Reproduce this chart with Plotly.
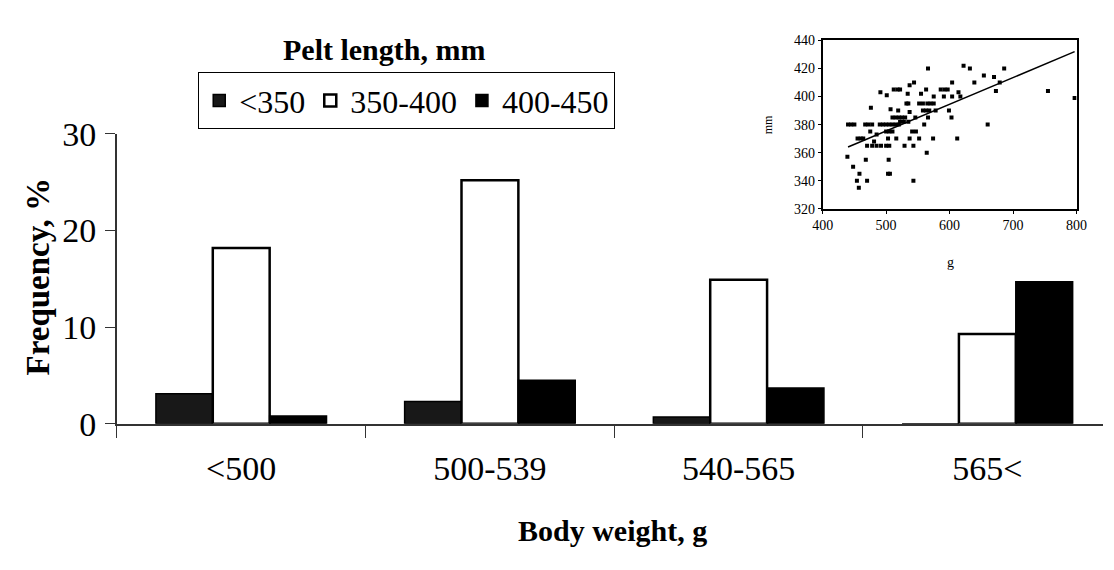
import plotly.graph_objects as go

W, H = 1114, 570

# ---- main chart data ----
categories = ["<500", "500-539", "540-565", "565<"]
series_names = ["<350", "350-400", "400-450"]
freq_lt350 = [3.1, 2.3, 0.7, 0]
freq_350_400 = [18.2, 25.2, 14.9, 9.3]
freq_400_450 = [0.8, 4.5, 3.7, 14.7]
y_ticks = [0, 10, 20, 30]

# ---- inset scatter data (body weight g, pelt length mm) ----
inset_g = [439, 448, 458, 454, 457, 470, 468, 440, 445, 450, 455, 460, 464, 476,
           467, 472, 478, 475, 470, 478, 485, 492, 500, 505, 481, 485, 490, 491,
           501, 503, 504, 503, 506, 507, 495, 500, 505, 510, 515, 520, 500, 505,
           510, 512, 518, 522, 519, 516, 510, 515, 520, 525, 530, 522, 528, 535,
           529, 532, 535, 534, 537, 544, 537, 537, 541, 547, 543, 543, 546, 552,
           555, 552, 558, 565, 570, 575, 563, 566, 564, 560, 558, 563, 568, 566,
           574, 575, 578, 586, 592, 597, 591, 599, 603, 604, 604, 612, 614, 617,
           622, 632, 639, 654, 660, 670, 673, 679, 686, 755, 797]
inset_mm = [357, 350, 345, 340, 335, 340, 355, 380, 380, 380, 370, 370, 370, 392,
            380, 380, 380, 375, 365, 365, 365, 365, 365, 365, 368, 373, 380, 403,
            401, 370, 355, 345, 345, 391, 380, 380, 380, 380, 380, 380, 375, 375,
            375, 405, 405, 405, 390, 370, 385, 385, 385, 385, 385, 382, 382, 382,
            365, 395, 395, 402, 408, 410, 389, 370, 375, 375, 365, 340, 385, 370,
            402, 395, 395, 395, 395, 395, 405, 420, 360, 380, 390, 390, 390, 385,
            370, 400, 390, 405, 405, 405, 400, 390, 385, 410, 400, 370, 403, 400,
            422, 420, 410, 415, 380, 414, 404, 410, 420, 404, 399]
trend_g = [440, 797]
trend_mm = [364, 432]

SERIF = "Liberation Serif"

fig = go.Figure()
fig.add_trace(go.Bar(x=categories, y=freq_lt350, name=series_names[0],
                     marker=dict(color="#181818", line=dict(color="black", width=1.5))))
fig.add_trace(go.Bar(x=categories, y=freq_350_400, name=series_names[1],
                     marker=dict(color="white", line=dict(color="black", width=2.5))))
fig.add_trace(go.Bar(x=categories, y=freq_400_450, name=series_names[2],
                     marker=dict(color="black", line=dict(color="black", width=1.5))))

fig.add_trace(go.Scatter(x=inset_g, y=inset_mm, mode="markers", xaxis="x2", yaxis="y2",
                         marker=dict(symbol="square", size=4, color="black"),
                         showlegend=False, hoverinfo="x+y"))
fig.add_trace(go.Scatter(x=trend_g, y=trend_mm, mode="lines", xaxis="x2", yaxis="y2",
                         line=dict(color="black", width=1.5), showlegend=False))

px = lambda v: v / W
py = lambda v: 1 - v / H

fig.update_layout(
    width=W, height=H,
    margin=dict(l=0, r=0, t=0, b=0),
    paper_bgcolor="white", plot_bgcolor="white",
    font=dict(family=SERIF, color="black"),
    barmode="group", bargap=0.314, bargroupgap=0,
    xaxis=dict(domain=[px(108), 1.0], range=[-0.5, 3.465], type="category",
               showline=True, linecolor="#333", linewidth=1.5,
               ticks="outside", tickson="boundaries", ticklen=12, tickcolor="#333",
               tickfont=dict(size=34, family=SERIF), ticklabelstandoff=14,
               showgrid=False, zeroline=False, anchor="y"),
    yaxis=dict(domain=[py(434), py(124)], range=[0, 30], tickvals=y_ticks,
               showline=True, linecolor="#333", linewidth=1.5,
               ticks="outside", ticklen=10, tickcolor="#333",
               tickfont=dict(size=34, family=SERIF), ticklabelstandoff=2,
               showgrid=False, zeroline=False, anchor="x"),
    xaxis2=dict(domain=[px(828), px(1087)], range=[400, 800], dtick=100,
                showline=True, mirror=True, linecolor="black", linewidth=1.5,
                ticks="outside", ticklen=3, tickcolor="black",
                tickfont=dict(size=14, family=SERIF),
                showgrid=False, zeroline=False, anchor="y2"),
    yaxis2=dict(domain=[py(204), py(24)], range=[320, 440], dtick=20,
                showline=True, mirror=True, linecolor="black", linewidth=1.5,
                ticks="outside", ticklen=3, tickcolor="black",
                tickfont=dict(size=14, family=SERIF),
                showgrid=False, zeroline=False, anchor="x2"),
    legend=dict(orientation="h", x=px(191), y=py(58), xanchor="left", yanchor="top",
                bordercolor="black", borderwidth=1, bgcolor="white",
                font=dict(size=32, family=SERIF), itemwidth=30, traceorder="normal"),
    showlegend=True,
    annotations=[
        dict(text="<b>Pelt length, mm</b>", x=px(381), y=py(34), xref="paper", yref="paper",
             showarrow=False, font=dict(size=30, family=SERIF), xanchor="center", yanchor="middle"),
        dict(text="<b>Frequency, %</b>", x=px(28), y=py(277), xref="paper", yref="paper",
             showarrow=False, textangle=-90, font=dict(size=33, family=SERIF),
             xanchor="center", yanchor="middle"),
        dict(text="<b>Body weight, g</b>", x=px(614), y=py(548), xref="paper", yref="paper",
             showarrow=False, font=dict(size=30, family=SERIF), xanchor="center", yanchor="middle"),
        dict(text="mm", x=px(772), y=py(114), xref="paper", yref="paper",
             showarrow=False, textangle=-90, font=dict(size=12, family=SERIF),
             xanchor="center", yanchor="middle"),
        dict(text="g", x=px(958), y=py(262), xref="paper", yref="paper",
             showarrow=False, font=dict(size=14, family=SERIF),
             xanchor="center", yanchor="middle"),
    ],
)

fig.write_html("out.html")
